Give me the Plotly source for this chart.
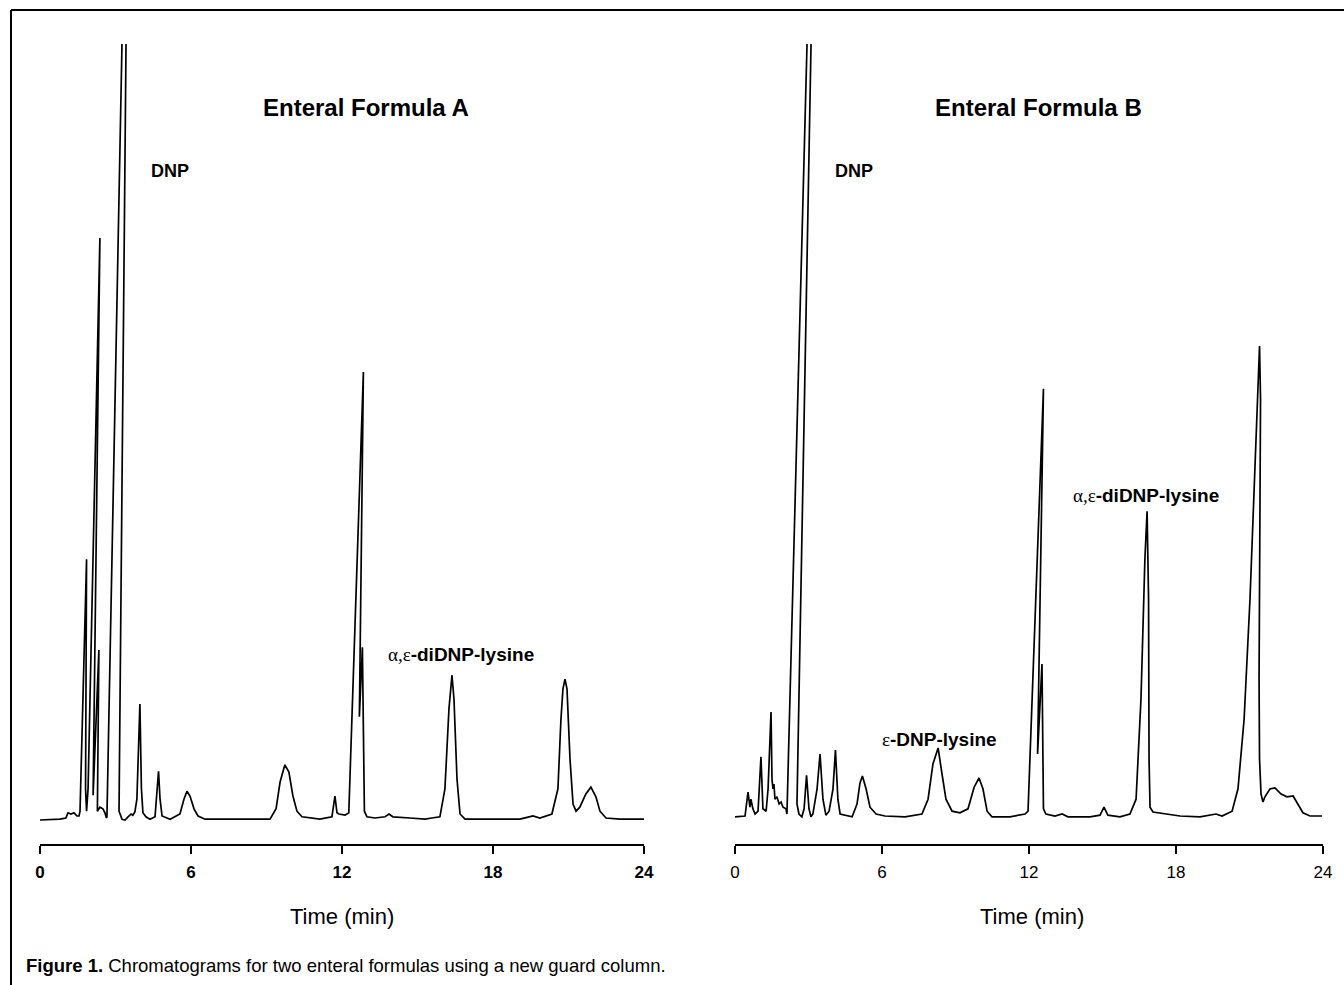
import plotly.graph_objects as go

# ---- Data (time in min, detector signal in arbitrary units) ----
# Enteral Formula A trace vertices
time_a = [0.0, 0.79, 1.03, 1.11, 1.23, 1.35, 1.47, 1.55, 1.59, 1.71, 1.85, 1.81, 1.85, 1.91,
          2.38, 2.11, 2.34, 2.28, 2.38, 2.50, 2.58, 2.64, 2.66, 3.56, 3.14, 3.26, 3.38, 3.50,
          3.62, 3.69, 3.77, 3.85, 3.97, 4.03, 4.09, 4.21, 4.37, 4.57, 4.63, 4.71, 4.77, 4.85,
          5.17, 5.56, 5.72, 5.84, 5.96, 6.12, 6.28, 6.56, 9.14, 9.38, 9.54, 9.73, 9.89, 10.05,
          10.21, 10.41, 11.12, 11.60, 11.72, 11.80, 11.88, 12.12, 12.27, 12.85, 12.69, 12.81,
          12.89, 12.99, 13.31, 13.71, 13.87, 14.02, 14.70, 15.30, 15.57, 15.89, 16.09, 16.25,
          16.37, 16.45, 16.57, 16.69, 16.89, 19.07, 19.59, 19.86, 20.34, 20.58, 20.70, 20.78,
          20.86, 20.94, 21.06, 21.18, 21.30, 21.45, 21.69, 21.89, 22.09, 22.25, 22.49, 23.04, 24.0]
signal_a = [3.0, 3.1, 3.25, 3.9, 3.75, 3.9, 3.5, 3.5, 4.1, 18.1, 35.6, 6.9, 4.1, 6.9,
            75.75, 6.1, 24.25, 4.1, 4.6, 4.4, 3.9, 3.25, 3.4, 148.75, 4.1, 3.1, 3.0, 3.4,
            3.75, 3.6, 4.0, 5.6, 17.5, 6.9, 3.9, 3.4, 3.1, 3.4, 5.6, 9.1, 5.6, 3.5,
            3.1, 3.75, 5.6, 6.6, 6.0, 4.4, 3.5, 3.1, 3.1, 4.4, 7.75, 9.9, 9.0, 6.0,
            4.1, 3.4, 3.1, 3.4, 6.0, 3.9, 3.75, 3.6, 3.9, 59.0, 15.9, 24.6,
            4.1, 3.4, 3.25, 3.4, 3.75, 3.4, 3.25, 3.1, 3.25, 3.4, 6.9, 16.9,
            21.1, 18.1, 8.1, 3.75, 3.1, 3.1, 3.5, 3.25, 3.75, 6.9, 15.6, 19.4,
            20.6, 19.4, 10.6, 5.0, 4.1, 4.6, 6.25, 7.1, 5.9, 4.1, 3.25, 3.1, 3.1]

# Enteral Formula B trace vertices
time_b = [0.0, 0.41, 0.53, 0.61, 0.65, 0.73, 0.82, 0.94, 1.06, 1.14, 1.27, 1.35, 1.47, 1.51,
          1.55, 1.59, 1.63, 1.71, 1.80, 1.88, 1.96, 2.08, 2.12, 3.50, 2.53, 2.61, 2.73, 2.82,
          2.92, 3.02, 3.10, 3.18, 3.35, 3.47, 3.59, 3.71, 3.84, 4.00, 4.10, 4.20, 4.29, 4.49,
          4.78, 4.98, 5.10, 5.20, 5.35, 5.51, 5.76, 6.12, 6.94, 7.63, 7.88, 8.08, 8.29, 8.45,
          8.61, 8.86, 9.18, 9.51, 9.76, 9.96, 10.12, 10.29, 10.49, 11.22, 11.84, 11.96, 12.59,
          12.35, 12.53, 12.59, 12.69, 13.06, 13.35, 13.59, 14.49, 14.90, 15.06, 15.22, 15.71,
          16.12, 16.37, 16.57, 16.73, 16.82, 16.88, 16.90, 16.94, 17.06, 17.55, 18.16, 18.98,
          19.63, 19.88, 20.29, 20.53, 20.78, 21.02, 21.22, 21.41, 21.45, 21.39, 21.41, 21.47,
          21.55, 21.63, 21.84, 22.04, 22.29, 22.53, 22.78, 22.98, 23.18, 23.47, 23.96]
signal_b = [3.4, 3.5, 6.5, 4.6, 5.6, 4.4, 3.75, 4.1, 10.9, 4.4, 4.1, 6.9, 16.5, 8.1,
            6.9, 7.5, 5.6, 5.9, 5.0, 5.25, 4.6, 4.4, 3.75, 165.75, 5.0, 3.75, 3.4, 4.4,
            8.6, 4.4, 3.4, 3.75, 6.9, 11.25, 5.6, 3.6, 4.1, 6.9, 11.75, 5.6, 3.75, 3.6,
            3.4, 5.0, 7.6, 8.5, 6.9, 4.6, 3.75, 3.5, 3.4, 3.75, 5.6, 10.0, 12.0, 8.75,
            5.6, 4.1, 3.9, 4.4, 7.1, 8.25, 6.9, 4.1, 3.4, 3.4, 3.75, 4.1, 56.9,
            11.25, 22.5, 4.4, 3.75, 3.5, 3.75, 3.4, 3.4, 3.6, 4.6, 3.6, 3.4,
            3.75, 5.6, 18.1, 35.6, 41.6, 30.6, 10.6, 4.6, 4.0, 3.75, 3.5, 3.4,
            3.75, 3.5, 4.1, 6.9, 15.6, 30.6, 46.9, 62.25, 55.6, 20.6, 10.6, 6.25,
            5.25, 5.9, 6.9, 7.0, 6.25, 5.9, 6.0, 5.0, 3.9, 3.5, 3.5]

tick_vals = [0, 6, 12, 18, 24]
tick_text = ["0", "6", "12", "18", "24"]
panel_titles = ["Enteral Formula A", "Enteral Formula B"]
axis_title = "Time (min)"
caption_bold = "Figure 1."
caption_text = " Chromatograms for two enteral formulas using a new guard column."

W, H = 1344, 985
def px(x):
    return x / W
def py(y):
    return (H - y) / H

NARROW = "Liberation Sans Narrow, Arial Narrow, Liberation Sans, Arial, sans-serif"
SANS = "Liberation Sans, Arial, Helvetica, sans-serif"
SERIF = "Liberation Serif, Times New Roman, serif"

fig = go.Figure()
fig.add_trace(go.Scatter(x=time_a, y=signal_a, mode="lines", xaxis="x", yaxis="y",
                         line=dict(color="black", width=1.7), showlegend=False, hoverinfo="skip"))
fig.add_trace(go.Scatter(x=time_b, y=signal_b, mode="lines", xaxis="x2", yaxis="y2",
                         line=dict(color="black", width=1.7), showlegend=False, hoverinfo="skip"))

xcommon = dict(range=[0, 24], showline=True, linecolor="black", linewidth=2,
               ticks="outside", ticklen=8, tickwidth=2, tickcolor="black",
               tickvals=tick_vals, ticktext=tick_text, showgrid=False, zeroline=False,
               ticklabelstandoff=4, automargin=False, fixedrange=True)
ycommon = dict(range=[0, 100], visible=False, showgrid=False, zeroline=False,
               automargin=False, fixedrange=True)
ydom = [py(844), py(44)]

fig.update_layout(
    width=W, height=H,
    margin=dict(l=0, r=0, t=0, b=0, autoexpand=False),
    paper_bgcolor="white", plot_bgcolor="white",
    xaxis=dict(domain=[px(40), px(644)], anchor="y",
               tickfont=dict(family=NARROW, size=17, color="black", weight="bold"), **xcommon),
    yaxis=dict(domain=ydom, anchor="x", **ycommon),
    xaxis2=dict(domain=[px(735), px(1323)], anchor="y2",
                tickfont=dict(family=NARROW, size=17, color="black"), **xcommon),
    yaxis2=dict(domain=ydom, anchor="x2", **ycommon),
)

# frame around the figure (top and left edges visible)
fig.add_shape(type="line", xref="paper", yref="paper", x0=px(11), x1=1.0, y0=py(10), y1=py(10),
              line=dict(color="black", width=2))
fig.add_shape(type="line", xref="paper", yref="paper", x0=px(11), x1=px(11), y0=0, y1=py(10),
              line=dict(color="black", width=2))

def ann(text, x, y, font, xanchor="center"):
    fig.add_annotation(text=text, x=px(x), y=py(y), xref="paper", yref="paper",
                       showarrow=False, xanchor=xanchor, yanchor="middle", font=font)

title_font = dict(family=NARROW, size=24, color="black", weight="bold")
ann(panel_titles[0], 366, 108, title_font)
ann(panel_titles[1], 1038, 108, title_font)

ann("<b>DNP</b>", 170, 171, dict(family=SANS, size=18, color="black"))
ann("<b>DNP</b>", 854, 171, dict(family=SANS, size=18, color="black"))
lab_font = dict(family=SANS, size=19, color="black")
ann("<span style='font-family:" + SERIF + "'>α,ε</span><b>-diDNP-lysine</b>", 461, 654, lab_font)
ann("<span style='font-family:" + SERIF + "'>α,ε</span><b>-diDNP-lysine</b>", 1146, 495, lab_font)
ann("<span style='font-family:" + SERIF + "'>ε</span><b>-DNP-lysine</b>", 939, 739, lab_font)

at_font = dict(family=SANS, size=22, color="black")
ann(axis_title, 342, 916, at_font)
ann(axis_title, 1032, 916, at_font)

ann("<b>" + caption_bold + "</b>" + caption_text, 24, 965,
    dict(family=NARROW, size=18.5, color="black"), xanchor="left")

fig.write_html("out.html", config={"displayModeBar": False},
               post_script="document.body.style.margin='0';document.body.style.overflow='hidden';")
